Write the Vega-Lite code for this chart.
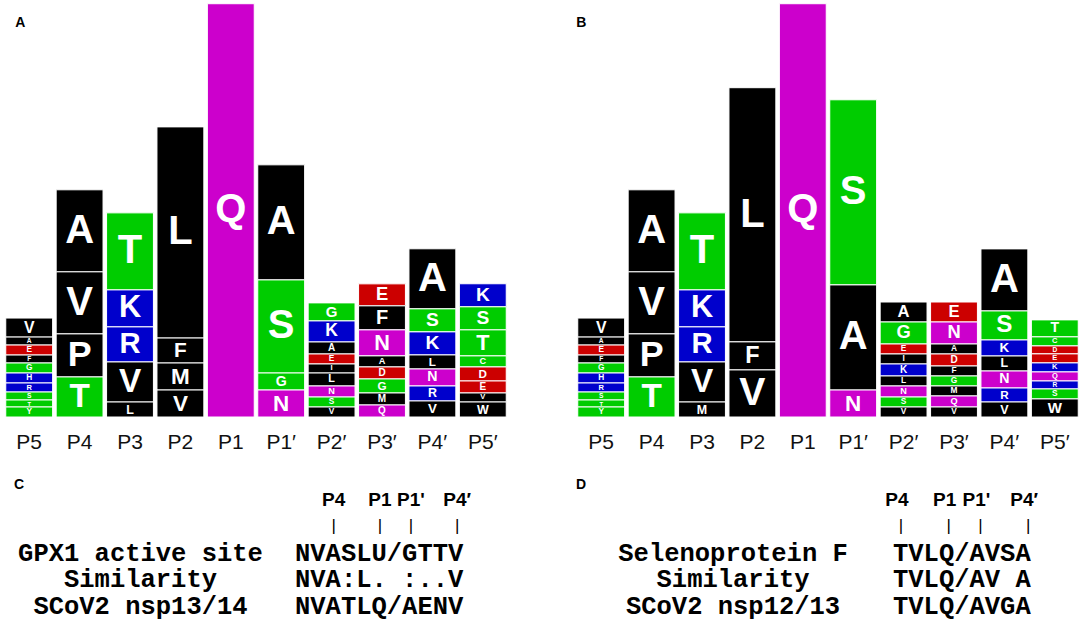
{
  "$schema": "https://vega.github.io/schema/vega-lite/v6.json",
  "background": "white",
  "padding": {"left": 4, "top": 2, "right": 0, "bottom": 0},
  "config": {"view": {"stroke": null}, "font": "Liberation Sans"},
  "datasets": {
    "logoA": [
      {"pos": "P5", "aa": "V", "bits": 0.198, "rank": 10},
      {"pos": "P5", "aa": "A", "bits": 0.083, "rank": 9},
      {"pos": "P5", "aa": "E", "bits": 0.104, "rank": 8},
      {"pos": "P5", "aa": "F", "bits": 0.083, "rank": 7},
      {"pos": "P5", "aa": "G", "bits": 0.104, "rank": 6},
      {"pos": "P5", "aa": "H", "bits": 0.104, "rank": 5},
      {"pos": "P5", "aa": "R", "bits": 0.094, "rank": 4},
      {"pos": "P5", "aa": "S", "bits": 0.083, "rank": 3},
      {"pos": "P5", "aa": "T", "bits": 0.073, "rank": 2},
      {"pos": "P5", "aa": "Y", "bits": 0.104, "rank": 1},
      {"pos": "P4", "aa": "A", "bits": 0.854, "rank": 4},
      {"pos": "P4", "aa": "V", "bits": 0.646, "rank": 3},
      {"pos": "P4", "aa": "P", "bits": 0.448, "rank": 2},
      {"pos": "P4", "aa": "T", "bits": 0.417, "rank": 1},
      {"pos": "P3", "aa": "T", "bits": 0.802, "rank": 5},
      {"pos": "P3", "aa": "K", "bits": 0.385, "rank": 4},
      {"pos": "P3", "aa": "R", "bits": 0.365, "rank": 3},
      {"pos": "P3", "aa": "V", "bits": 0.417, "rank": 2},
      {"pos": "P3", "aa": "L", "bits": 0.156, "rank": 1},
      {"pos": "P2", "aa": "L", "bits": 2.198, "rank": 4},
      {"pos": "P2", "aa": "F", "bits": 0.26, "rank": 3},
      {"pos": "P2", "aa": "M", "bits": 0.281, "rank": 2},
      {"pos": "P2", "aa": "V", "bits": 0.281, "rank": 1},
      {"pos": "P1", "aa": "Q", "bits": 4.302, "rank": 1},
      {"pos": "P1′", "aa": "A", "bits": 1.198, "rank": 4},
      {"pos": "P1′", "aa": "S", "bits": 0.969, "rank": 3},
      {"pos": "P1′", "aa": "G", "bits": 0.177, "rank": 2},
      {"pos": "P1′", "aa": "N", "bits": 0.281, "rank": 1},
      {"pos": "P2′", "aa": "G", "bits": 0.188, "rank": 9},
      {"pos": "P2′", "aa": "K", "bits": 0.219, "rank": 8},
      {"pos": "P2′", "aa": "A", "bits": 0.125, "rank": 7},
      {"pos": "P2′", "aa": "E", "bits": 0.104, "rank": 6},
      {"pos": "P2′", "aa": "I", "bits": 0.094, "rank": 5},
      {"pos": "P2′", "aa": "L", "bits": 0.135, "rank": 4},
      {"pos": "P2′", "aa": "N", "bits": 0.115, "rank": 3},
      {"pos": "P2′", "aa": "S", "bits": 0.104, "rank": 2},
      {"pos": "P2′", "aa": "V", "bits": 0.104, "rank": 1},
      {"pos": "P3′", "aa": "E", "bits": 0.229, "rank": 8},
      {"pos": "P3′", "aa": "F", "bits": 0.25, "rank": 7},
      {"pos": "P3′", "aa": "N", "bits": 0.271, "rank": 6},
      {"pos": "P3′", "aa": "A", "bits": 0.115, "rank": 5},
      {"pos": "P3′", "aa": "D", "bits": 0.125, "rank": 4},
      {"pos": "P3′", "aa": "G", "bits": 0.146, "rank": 3},
      {"pos": "P3′", "aa": "M", "bits": 0.125, "rank": 2},
      {"pos": "P3′", "aa": "Q", "bits": 0.125, "rank": 1},
      {"pos": "P4′", "aa": "A", "bits": 0.625, "rank": 7},
      {"pos": "P4′", "aa": "S", "bits": 0.24, "rank": 6},
      {"pos": "P4′", "aa": "K", "bits": 0.24, "rank": 5},
      {"pos": "P4′", "aa": "L", "bits": 0.146, "rank": 4},
      {"pos": "P4′", "aa": "N", "bits": 0.177, "rank": 3},
      {"pos": "P4′", "aa": "R", "bits": 0.156, "rank": 2},
      {"pos": "P4′", "aa": "V", "bits": 0.167, "rank": 1},
      {"pos": "P5′", "aa": "K", "bits": 0.24, "rank": 8},
      {"pos": "P5′", "aa": "S", "bits": 0.24, "rank": 7},
      {"pos": "P5′", "aa": "T", "bits": 0.271, "rank": 6},
      {"pos": "P5′", "aa": "C", "bits": 0.115, "rank": 5},
      {"pos": "P5′", "aa": "D", "bits": 0.146, "rank": 4},
      {"pos": "P5′", "aa": "E", "bits": 0.125, "rank": 3},
      {"pos": "P5′", "aa": "V", "bits": 0.094, "rank": 2},
      {"pos": "P5′", "aa": "W", "bits": 0.156, "rank": 1}
    ],
    "logoB": [
      {"pos": "P5", "aa": "V", "bits": 0.198, "rank": 10},
      {"pos": "P5", "aa": "A", "bits": 0.083, "rank": 9},
      {"pos": "P5", "aa": "E", "bits": 0.104, "rank": 8},
      {"pos": "P5", "aa": "F", "bits": 0.083, "rank": 7},
      {"pos": "P5", "aa": "G", "bits": 0.104, "rank": 6},
      {"pos": "P5", "aa": "H", "bits": 0.104, "rank": 5},
      {"pos": "P5", "aa": "R", "bits": 0.094, "rank": 4},
      {"pos": "P5", "aa": "S", "bits": 0.083, "rank": 3},
      {"pos": "P5", "aa": "T", "bits": 0.073, "rank": 2},
      {"pos": "P5", "aa": "Y", "bits": 0.104, "rank": 1},
      {"pos": "P4", "aa": "A", "bits": 0.854, "rank": 4},
      {"pos": "P4", "aa": "V", "bits": 0.646, "rank": 3},
      {"pos": "P4", "aa": "P", "bits": 0.448, "rank": 2},
      {"pos": "P4", "aa": "T", "bits": 0.417, "rank": 1},
      {"pos": "P3", "aa": "T", "bits": 0.802, "rank": 5},
      {"pos": "P3", "aa": "K", "bits": 0.385, "rank": 4},
      {"pos": "P3", "aa": "R", "bits": 0.365, "rank": 3},
      {"pos": "P3", "aa": "V", "bits": 0.417, "rank": 2},
      {"pos": "P3", "aa": "M", "bits": 0.156, "rank": 1},
      {"pos": "P2", "aa": "L", "bits": 2.646, "rank": 3},
      {"pos": "P2", "aa": "F", "bits": 0.292, "rank": 2},
      {"pos": "P2", "aa": "V", "bits": 0.49, "rank": 1},
      {"pos": "P1", "aa": "Q", "bits": 4.302, "rank": 1},
      {"pos": "P1′", "aa": "S", "bits": 1.927, "rank": 3},
      {"pos": "P1′", "aa": "A", "bits": 1.094, "rank": 2},
      {"pos": "P1′", "aa": "N", "bits": 0.281, "rank": 1},
      {"pos": "P2′", "aa": "A", "bits": 0.208, "rank": 9},
      {"pos": "P2′", "aa": "G", "bits": 0.229, "rank": 8},
      {"pos": "P2′", "aa": "E", "bits": 0.104, "rank": 7},
      {"pos": "P2′", "aa": "I", "bits": 0.104, "rank": 6},
      {"pos": "P2′", "aa": "K", "bits": 0.125, "rank": 5},
      {"pos": "P2′", "aa": "L", "bits": 0.104, "rank": 4},
      {"pos": "P2′", "aa": "N", "bits": 0.115, "rank": 3},
      {"pos": "P2′", "aa": "S", "bits": 0.104, "rank": 2},
      {"pos": "P2′", "aa": "V", "bits": 0.104, "rank": 1},
      {"pos": "P3′", "aa": "E", "bits": 0.208, "rank": 9},
      {"pos": "P3′", "aa": "N", "bits": 0.229, "rank": 8},
      {"pos": "P3′", "aa": "A", "bits": 0.104, "rank": 7},
      {"pos": "P3′", "aa": "D", "bits": 0.125, "rank": 6},
      {"pos": "P3′", "aa": "F", "bits": 0.104, "rank": 5},
      {"pos": "P3′", "aa": "G", "bits": 0.104, "rank": 4},
      {"pos": "P3′", "aa": "M", "bits": 0.104, "rank": 3},
      {"pos": "P3′", "aa": "Q", "bits": 0.115, "rank": 2},
      {"pos": "P3′", "aa": "V", "bits": 0.104, "rank": 1},
      {"pos": "P4′", "aa": "A", "bits": 0.646, "rank": 7},
      {"pos": "P4′", "aa": "S", "bits": 0.302, "rank": 6},
      {"pos": "P4′", "aa": "K", "bits": 0.167, "rank": 5},
      {"pos": "P4′", "aa": "L", "bits": 0.156, "rank": 4},
      {"pos": "P4′", "aa": "N", "bits": 0.177, "rank": 3},
      {"pos": "P4′", "aa": "R", "bits": 0.146, "rank": 2},
      {"pos": "P4′", "aa": "V", "bits": 0.156, "rank": 1},
      {"pos": "P5′", "aa": "T", "bits": 0.177, "rank": 9},
      {"pos": "P5′", "aa": "C", "bits": 0.094, "rank": 8},
      {"pos": "P5′", "aa": "D", "bits": 0.083, "rank": 7},
      {"pos": "P5′", "aa": "E", "bits": 0.094, "rank": 6},
      {"pos": "P5′", "aa": "K", "bits": 0.094, "rank": 5},
      {"pos": "P5′", "aa": "Q", "bits": 0.094, "rank": 4},
      {"pos": "P5′", "aa": "R", "bits": 0.083, "rank": 3},
      {"pos": "P5′", "aa": "S", "bits": 0.104, "rank": 2},
      {"pos": "P5′", "aa": "W", "bits": 0.188, "rank": 1}
    ],
    "alignC": [
      {"row": 1, "name": "GPX1 active site", "seq": "NVASLU/GTTV"},
      {"row": 2, "name": "Similarity", "seq": "NVA:L. :..V"},
      {"row": 3, "name": "SCoV2 nsp13/14", "seq": "NVATLQ/AENV"}
    ],
    "sitesC": [
      {"site": "P4", "col": 3},
      {"site": "P1", "col": 6},
      {"site": "P1'", "col": 8},
      {"site": "P4′", "col": 11}
    ],
    "alignD": [
      {"row": 1, "name": "Selenoprotein F", "seq": "TVLQ/AVSA"},
      {"row": 2, "name": "Similarity", "seq": "TVLQ/AV A"},
      {"row": 3, "name": "SCoV2 nsp12/13", "seq": "TVLQ/AVGA"}
    ],
    "sitesD": [
      {"site": "P4", "col": 1},
      {"site": "P1", "col": 4},
      {"site": "P1'", "col": 6},
      {"site": "P4′", "col": 9}
    ]
  },
  "spacing": 12,
  "vconcat": [
    {
      "spacing": 68,
      "hconcat": [
        {
          "width": 504,
          "height": 415,
          "data": {"name": "logoA"},
          "encoding": {
            "x": {
              "field": "pos", "type": "nominal", "title": null,
              "scale": {"domain": ["P5", "P4", "P3", "P2", "P1", "P1′", "P2′", "P3′", "P4′", "P5′"], "paddingInner": 0.07, "paddingOuter": 0.035},
              "axis": {"domain": false, "ticks": false, "labelAngle": 0, "labelFontSize": 21, "labelFont": "Liberation Sans", "labelColor": "#111111", "labelPadding": 14}
            }
          },
          "layer": [
            {
              "mark": {"type": "bar", "stroke": "white", "strokeWidth": 1},
              "encoding": {
                "y": {"field": "bits", "type": "quantitative", "stack": "zero", "scale": {"domain": [0, 4.32], "nice": false}, "axis": null},
                "order": {"field": "rank", "type": "quantitative"},
                "color": {"field": "aa", "type": "nominal", "legend": null,
                  "scale": {"domain": ["A", "V", "L", "I", "P", "F", "M", "W", "G", "S", "T", "Y", "C", "N", "Q", "K", "R", "H", "D", "E"],
                            "range": ["#000000", "#000000", "#000000", "#000000", "#000000", "#000000", "#000000", "#000000", "#00CC00", "#00CC00", "#00CC00", "#00CC00", "#00CC00", "#CC00CC", "#CC00CC", "#0000CC", "#0000CC", "#0000CC", "#CC0000", "#CC0000"]}}
              }
            },
            {
              "mark": {"type": "text", "font": "Liberation Sans", "fontWeight": "bold", "color": "white", "baseline": "middle"},
              "encoding": {
                "y": {"field": "bits", "type": "quantitative", "stack": "zero", "bandPosition": 0.5, "scale": {"domain": [0, 4.32], "nice": false}, "axis": null},
                "order": {"field": "rank", "type": "quantitative"},
                "text": {"field": "aa"},
                "size": {"field": "bits", "type": "quantitative", "legend": null, "scale": {"domain": [0, 0.5], "range": [0, 40], "clamp": true}}
              }
            },
            {
              "data": {"values": [{"label": "A"}]},
              "mark": {"type": "text", "font": "Liberation Sans", "fontWeight": "bold", "fontSize": 14, "color": "black", "dx": -9, "baseline": "middle"},
              "encoding": {
                "x": {"datum": "P5"},
                "y": {"datum": 4.1, "type": "quantitative", "scale": {"domain": [0, 4.32], "nice": false}},
                "text": {"field": "label"}
              }
            }
          ]
        },
        {
          "width": 504,
          "height": 415,
          "data": {"name": "logoB"},
          "encoding": {
            "x": {
              "field": "pos", "type": "nominal", "title": null,
              "scale": {"domain": ["P5", "P4", "P3", "P2", "P1", "P1′", "P2′", "P3′", "P4′", "P5′"], "paddingInner": 0.07, "paddingOuter": 0.035},
              "axis": {"domain": false, "ticks": false, "labelAngle": 0, "labelFontSize": 21, "labelFont": "Liberation Sans", "labelColor": "#111111", "labelPadding": 14}
            }
          },
          "layer": [
            {
              "mark": {"type": "bar", "stroke": "white", "strokeWidth": 1},
              "encoding": {
                "y": {"field": "bits", "type": "quantitative", "stack": "zero", "scale": {"domain": [0, 4.32], "nice": false}, "axis": null},
                "order": {"field": "rank", "type": "quantitative"},
                "color": {"field": "aa", "type": "nominal", "legend": null,
                  "scale": {"domain": ["A", "V", "L", "I", "P", "F", "M", "W", "G", "S", "T", "Y", "C", "N", "Q", "K", "R", "H", "D", "E"],
                            "range": ["#000000", "#000000", "#000000", "#000000", "#000000", "#000000", "#000000", "#000000", "#00CC00", "#00CC00", "#00CC00", "#00CC00", "#00CC00", "#CC00CC", "#CC00CC", "#0000CC", "#0000CC", "#0000CC", "#CC0000", "#CC0000"]}}
              }
            },
            {
              "mark": {"type": "text", "font": "Liberation Sans", "fontWeight": "bold", "color": "white", "baseline": "middle"},
              "encoding": {
                "y": {"field": "bits", "type": "quantitative", "stack": "zero", "bandPosition": 0.5, "scale": {"domain": [0, 4.32], "nice": false}, "axis": null},
                "order": {"field": "rank", "type": "quantitative"},
                "text": {"field": "aa"},
                "size": {"field": "bits", "type": "quantitative", "legend": null, "scale": {"domain": [0, 0.5], "range": [0, 40], "clamp": true}}
              }
            },
            {
              "data": {"values": [{"label": "B"}]},
              "mark": {"type": "text", "font": "Liberation Sans", "fontWeight": "bold", "fontSize": 14, "color": "black", "dx": -20, "baseline": "middle"},
              "encoding": {
                "x": {"datum": "P5"},
                "y": {"datum": 4.1, "type": "quantitative", "scale": {"domain": [0, 4.32], "nice": false}},
                "text": {"field": "label"}
              }
            }
          ]
        }
      ]
    },
    {
      "spacing": 28,
      "hconcat": [
        {
          "width": 540,
          "height": 160,
          "layer": [
            {
              "data": {"name": "alignC"},
              "mark": {"type": "text", "font": "Liberation Mono", "fontWeight": "bold", "fontSize": 25.5, "align": "center", "baseline": "middle", "color": "black"},
              "encoding": {
                "x": {"datum": -9.5, "type": "quantitative", "scale": {"domain": [-18.335, 16.616], "nice": false, "zero": false}, "axis": null},
                "y": {"field": "row", "type": "quantitative", "scale": {"domain": [-2.358, 3.68], "reverse": true, "nice": false, "zero": false}, "axis": null},
                "text": {"field": "name"}
              }
            },
            {
              "data": {"name": "alignC"},
              "mark": {"type": "text", "font": "Liberation Mono", "fontWeight": "bold", "fontSize": 25.5, "align": "left", "baseline": "middle", "color": "black"},
              "encoding": {
                "x": {"datum": 0.5, "type": "quantitative", "scale": {"domain": [-18.335, 16.616], "nice": false, "zero": false}, "axis": null},
                "y": {"field": "row", "type": "quantitative", "scale": {"domain": [-2.358, 3.68], "reverse": true, "nice": false, "zero": false}, "axis": null},
                "text": {"field": "seq"}
              }
            },
            {
              "data": {"name": "sitesC"},
              "mark": {"type": "text", "font": "Liberation Sans Narrow, Liberation Sans", "fontWeight": "bold", "fontSize": 19, "align": "center", "baseline": "middle", "color": "black"},
              "encoding": {
                "x": {"field": "col", "type": "quantitative", "scale": {"domain": [-18.335, 16.616], "nice": false, "zero": false}, "axis": null},
                "y": {"datum": -1, "type": "quantitative", "scale": {"domain": [-2.358, 3.68], "reverse": true, "nice": false, "zero": false}, "axis": null},
                "text": {"field": "site"}
              }
            },
            {
              "data": {"name": "sitesC"},
              "mark": {"type": "text", "text": "|", "font": "Liberation Sans", "fontSize": 17, "align": "center", "baseline": "middle", "color": "black"},
              "encoding": {
                "x": {"field": "col", "type": "quantitative", "scale": {"domain": [-18.335, 16.616], "nice": false, "zero": false}, "axis": null},
                "y": {"datum": 0, "type": "quantitative", "scale": {"domain": [-2.358, 3.68], "reverse": true, "nice": false, "zero": false}, "axis": null}
              }
            },
            {
              "data": {"values": [{"label": "C"}]},
              "mark": {"type": "text", "font": "Liberation Sans", "fontWeight": "bold", "fontSize": 14, "align": "center", "baseline": "middle", "color": "black"},
              "encoding": {
                "x": {"datum": -17.36, "type": "quantitative", "scale": {"domain": [-18.335, 16.616], "nice": false, "zero": false}, "axis": null},
                "y": {"datum": -1.566, "type": "quantitative", "scale": {"domain": [-2.358, 3.68], "reverse": true, "nice": false, "zero": false}, "axis": null},
                "text": {"field": "label"}
              }
            }
          ]
        },
        {
          "width": 508,
          "height": 160,
          "layer": [
            {
              "data": {"name": "alignD"},
              "mark": {"type": "text", "font": "Liberation Mono", "fontWeight": "bold", "fontSize": 25.5, "align": "center", "baseline": "middle", "color": "black"},
              "encoding": {
                "x": {"datum": -9.56, "type": "quantitative", "scale": {"domain": [-19.689, 12.261], "nice": false, "zero": false}, "axis": null},
                "y": {"field": "row", "type": "quantitative", "scale": {"domain": [-2.358, 3.68], "reverse": true, "nice": false, "zero": false}, "axis": null},
                "text": {"field": "name"}
              }
            },
            {
              "data": {"name": "alignD"},
              "mark": {"type": "text", "font": "Liberation Mono", "fontWeight": "bold", "fontSize": 25.5, "align": "left", "baseline": "middle", "color": "black"},
              "encoding": {
                "x": {"datum": 0.5, "type": "quantitative", "scale": {"domain": [-19.689, 12.261], "nice": false, "zero": false}, "axis": null},
                "y": {"field": "row", "type": "quantitative", "scale": {"domain": [-2.358, 3.68], "reverse": true, "nice": false, "zero": false}, "axis": null},
                "text": {"field": "seq"}
              }
            },
            {
              "data": {"name": "sitesD"},
              "mark": {"type": "text", "font": "Liberation Sans Narrow, Liberation Sans", "fontWeight": "bold", "fontSize": 19, "align": "center", "baseline": "middle", "color": "black", "dx": -4},
              "encoding": {
                "x": {"field": "col", "type": "quantitative", "scale": {"domain": [-19.689, 12.261], "nice": false, "zero": false}, "axis": null},
                "y": {"datum": -1, "type": "quantitative", "scale": {"domain": [-2.358, 3.68], "reverse": true, "nice": false, "zero": false}, "axis": null},
                "text": {"field": "site"}
              }
            },
            {
              "data": {"name": "sitesD"},
              "mark": {"type": "text", "text": "|", "font": "Liberation Sans", "fontSize": 17, "align": "center", "baseline": "middle", "color": "black"},
              "encoding": {
                "x": {"field": "col", "type": "quantitative", "scale": {"domain": [-19.689, 12.261], "nice": false, "zero": false}, "axis": null},
                "y": {"datum": 0, "type": "quantitative", "scale": {"domain": [-2.358, 3.68], "reverse": true, "nice": false, "zero": false}, "axis": null}
              }
            },
            {
              "data": {"values": [{"label": "D"}]},
              "mark": {"type": "text", "font": "Liberation Sans", "fontWeight": "bold", "fontSize": 14, "align": "center", "baseline": "middle", "color": "black"},
              "encoding": {
                "x": {"datum": -19.12, "type": "quantitative", "scale": {"domain": [-19.689, 12.261], "nice": false, "zero": false}, "axis": null},
                "y": {"datum": -1.566, "type": "quantitative", "scale": {"domain": [-2.358, 3.68], "reverse": true, "nice": false, "zero": false}, "axis": null},
                "text": {"field": "label"}
              }
            }
          ]
        }
      ]
    }
  ]
}
